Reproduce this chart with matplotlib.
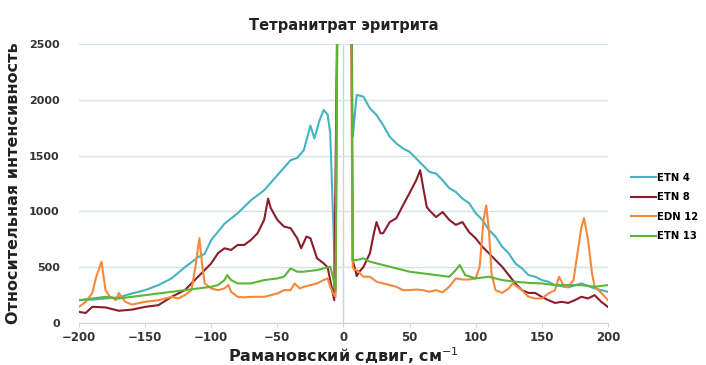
import matplotlib
matplotlib.use("Agg")
import matplotlib.pyplot as plt

# Raman spectra, shift in cm-1 -> relative intensity
etn4_x = [-200, -190, -180, -170, -160, -150, -140, -130, -120, -110, -105, -100, -90, -80, -70,
          -60, -50, -40, -35, -30, -25, -22, -18, -15, -12, -10, -8, -6, -4.5,
          6, 7, 10, 15, 20, 25, 30, 35, 40, 45, 50, 55, 60, 65, 70, 75, 80, 85, 90, 95,
          100, 105, 110, 115, 120, 125, 130, 135, 140, 145, 150, 155, 160, 170, 180, 190, 200]
etn4_y = [205, 210, 220, 230, 265, 295, 340, 400, 500, 590, 620, 745, 890, 985, 1100,
          1190, 1325, 1460, 1480, 1550, 1770, 1655, 1820, 1910, 1870, 1700, 1000, 270, 3000,
          3000, 1670, 2045, 2030, 1925, 1865, 1775, 1670, 1610, 1565, 1535, 1475, 1415, 1355, 1340, 1280, 1210, 1175, 1115, 1075,
          985, 925, 835, 775, 685, 625, 535, 490, 430, 415, 385, 370, 340, 320, 355, 310, 280]

etn8_x = [-200, -195, -190, -180, -170, -160, -150, -140, -130, -120, -110, -105, -100, -95, -90,
          -85, -80, -75, -70, -65, -60, -57, -55, -50, -45, -40, -35, -32, -28, -25, -20,
          -15, -12, -9, -7, -4.5,
          6, 7, 9.5, 10, 12, 15, 20, 23, 25, 28, 30, 35, 40, 45, 50, 55, 58, 60, 63, 65, 70,
          75, 80, 85, 90, 95, 100, 105, 110, 115, 120, 125, 130, 135, 140, 145, 150, 155,
          160, 165, 170, 175, 180, 185, 190, 195, 200]
etn8_y = [100, 90, 145, 140, 110, 120, 145, 160, 235, 295, 415, 475, 535, 625, 670,
          655, 700, 700, 745, 805, 925, 1115, 1030, 925, 865, 850, 760, 670, 775, 760, 580,
          535, 500, 325, 205, 3000,
          3000, 560, 450, 420, 460, 500, 625, 805, 905, 805, 805, 905, 940, 1055, 1165, 1280, 1370, 1235, 1040, 1010, 950,
          995, 925, 880, 905, 815, 760, 685, 625, 565, 505, 430, 355, 295, 270, 270, 235, 205,
          180, 190, 180, 205, 235, 220, 250, 190, 145]

edn12_x = [-200, -195, -190, -187, -183, -180, -177, -172, -170, -165, -160, -150, -140, -130,
           -125, -120, -115, -112, -109, -107, -105, -100, -95, -90, -87, -85, -80, -75, -70,
           -60, -50, -45, -40, -37, -33, -30, -20, -15, -12, -10, -8, -6, -4.5,
           5.5, 7, 8, 10, 15, 20, 25, 30, 35, 40, 45, 50, 55, 60, 65, 70, 75, 80, 85, 90, 95,
           100, 103, 106, 108, 110, 112, 115, 120, 125, 128, 135, 140, 145, 150, 155, 160, 163,
           167, 170, 174, 177, 180, 182, 185, 188, 190, 195, 200]
edn12_y = [145, 190, 270, 415, 550, 295, 240, 205, 270, 190, 165, 190, 205, 235,
           220, 250, 295, 505, 760, 535, 355, 310, 295, 310, 340, 280, 235, 230, 235,
           235, 265, 295, 295, 355, 310, 325, 355, 385, 400, 325, 270, 235, 3000,
           3000, 505, 480, 475, 415, 415, 370, 355, 340, 325, 295, 295, 300, 295, 280, 295, 275, 325, 400, 390, 390,
           400, 505, 925, 1055, 835, 445, 295, 270, 310, 355, 295, 235, 220, 220, 265, 295, 415,
           325, 325, 385, 625, 860, 940, 745, 445, 325, 270, 205]

etn13_x = [-200, -190, -180, -170, -160, -150, -140, -130, -120, -110, -100, -95, -90, -88,
           -85, -80, -70, -60, -50, -45, -40, -35, -30, -20, -15, -10, -8, -6, -4.5,
           6, 7, 10, 15, 20, 25, 30, 40, 50, 60, 70, 80, 85, 88, 92, 100, 110, 120, 130,
           140, 150, 160, 170, 180, 190, 200]
etn13_y = [205, 220, 235, 220, 235, 250, 265, 280, 295, 310, 325, 340, 385, 430,
           385, 355, 355, 385, 400, 415, 490, 460, 460, 475, 490, 505, 415, 295, 3000,
           3000, 565, 565, 580, 550, 535, 520, 490, 460, 445, 430, 415, 475, 520, 430, 400, 415, 385, 370,
           360, 355, 340, 340, 340, 325, 340]

names = ["ETN 4", "ETN 8", "EDN 12", "ETN 13"]
colors = ["#45b3c0", "#8a1c2c", "#f7883a", "#5ab637"]

x_ticks = [-200, -150, -100, -50, 0, 50, 100, 150, 200]
y_ticks = [0, 500, 1000, 1500, 2000, 2500]

fig = plt.figure(figsize=(7.06, 3.65), dpi=100)
ax = fig.add_axes([0.112, 0.115, 0.749, 0.764])

series = [(etn4_x, etn4_y), (etn8_x, etn8_y), (edn12_x, edn12_y), (etn13_x, etn13_y)]
for (xs, ys), name, c in zip(series, names, colors):
    ax.plot(xs, ys, color=c, lw=1.5, label=name, solid_joinstyle="round")

ax.set_xlim(-200, 200)
ax.set_ylim(0, 2500)
ax.set_xticks(x_ticks)
ax.set_yticks(y_ticks)
ax.grid(axis="y", color="#d3e3e2", lw=1.0)
ax.set_axisbelow(True)
ax.axvline(0, color="#c9d6d6", lw=1.0, zorder=0)
for s in ["top", "right", "left"]:
    ax.spines[s].set_visible(False)
ax.spines["bottom"].set_color("#c9d6d6")
ax.tick_params(axis="y", length=0, pad=14, labelsize=8, labelcolor="#333333")
ax.tick_params(axis="x", length=3, color="#c9d6d6", pad=3, labelsize=8.5, labelcolor="#333333")
for lab in ax.get_xticklabels() + ax.get_yticklabels():
    lab.set_fontweight("bold")

ax.set_title("Тетранитрат эритрита", fontsize=10.5, fontweight="bold", color="#222222", pad=10)
ax.set_ylabel("Относительная интенсивность", fontsize=11.5, fontweight="bold", color="#222222", labelpad=6)
ax.set_xlabel("Рамановский сдвиг, см$^{-1}$", fontsize=11.5, fontweight="bold", color="#222222", labelpad=1)

ax.legend(loc="center left", bbox_to_anchor=(0.884, 0.433), bbox_transform=fig.transFigure,
          frameon=False, handlelength=2.4, handletextpad=0.1, labelspacing=0.95,
          borderpad=0.2, prop={"weight": "bold", "size": 7.3})

fig.savefig("out.png", dpi=100)
